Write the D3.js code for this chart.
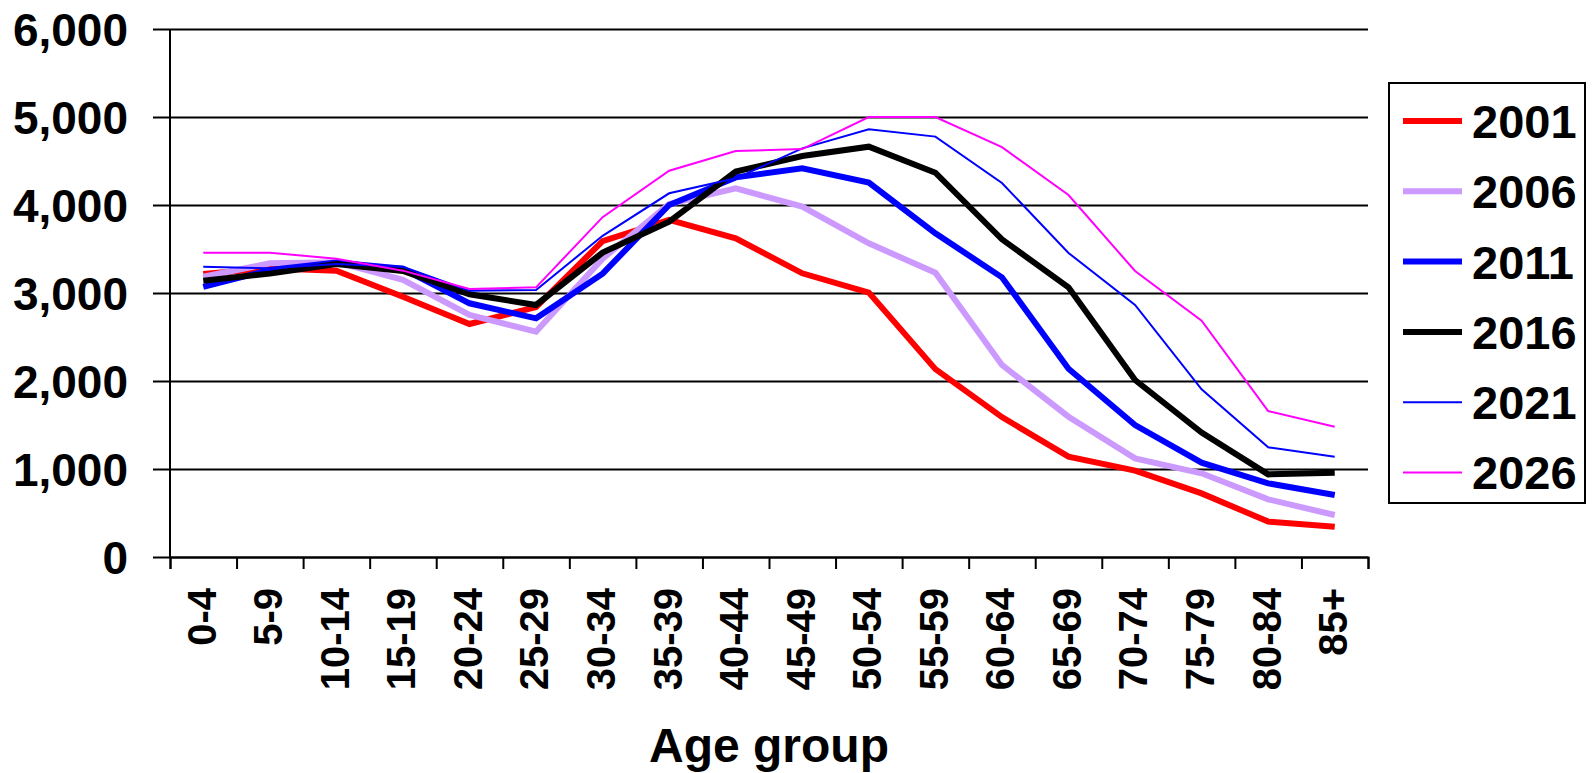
<!DOCTYPE html>
<html>
<head>
<meta charset="utf-8">
<script src="https://cdn.jsdelivr.net/npm/d3@7"></script>
<style>
  body { margin: 0; background: #fff; }
  svg { display: block; font-family: "Liberation Sans", Arial, sans-serif; font-weight: bold; }
  .grid line { stroke: #000; stroke-width: 2; }
  .grid .domain { display: none; }
  .axis-y-line { stroke: #000; stroke-width: 2; }
  .ticks-x line, .ticks-x .domain { stroke: #000; stroke-width: 2; }
  .series { fill: none; stroke-linejoin: miter; }
</style>
</head>
<body>
<svg width="1592" height="773"></svg>
<script>
const ageGroups = ['0-4', '5-9', '10-14', '15-19', '20-24', '25-29', '30-34', '35-39', '40-44',
  '45-49', '50-54', '55-59', '60-64', '65-69', '70-74', '75-79', '80-84', '85+'];
const years = ['2001', '2006', '2011', '2016', '2021', '2026'];
const pop2001 = [3216, 3280, 3254, 2958, 2648, 2840, 3590, 3830, 3621, 3224, 3004, 2135, 1590, 1140, 981, 723, 402, 345];
const pop2006 = [3185, 3337, 3350, 3150, 2750, 2561, 3390, 4010, 4189, 3981, 3564, 3231, 2182, 1594, 1121, 951, 655, 477];
const pop2011 = [3070, 3261, 3345, 3275, 2883, 2712, 3220, 4000, 4314, 4417, 4254, 3678, 3178, 2140, 1500, 1072, 837, 705];
const pop2016 = [3140, 3220, 3330, 3250, 2985, 2864, 3460, 3811, 4379, 4557, 4663, 4367, 3610, 3064, 2011, 1413, 939, 958];
const pop2021 = [3299, 3280, 3330, 3299, 3027, 3034, 3650, 4133, 4303, 4644, 4860, 4777, 4250, 3455, 2864, 1905, 1246, 1140];
const pop2026 = [3458, 3458, 3390, 3254, 3045, 3064, 3862, 4390, 4614, 4636, 5000, 5000, 4658, 4114, 3250, 2686, 1659, 1481];
const yTicks = [0, 1000, 2000, 3000, 4000, 5000, 6000];
const colors = ['#ff0000', '#cc99ff', '#0000ff', '#000000', '#0000ff', '#ff00ff'];
const widths = [6, 6, 6, 6, 2, 2];

const seriesValues = [pop2001, pop2006, pop2011, pop2016, pop2021, pop2026];
const series = years.map((y, i) => ({ year: y, values: seriesValues[i], color: colors[i], width: widths[i] }));

const margin = { top: 29, left: 170 };
const width = 1198;
const height = 528;

const svg = d3.select('svg');
const g = svg.append('g').attr('transform', `translate(${margin.left},${margin.top})`);

const x = d3.scaleBand().domain(ageGroups).range([0, width]);
const y = d3.scaleLinear().domain([0, 6000]).range([height, 0]);
const xEdge = d3.scaleLinear().domain([0, ageGroups.length]).range([0, width]);

// gridlines + y labels
const gridAxis = d3.axisLeft(y)
  .tickValues(yTicks)
  .tickSize(-(width + 17))
  .tickPadding(25)
  .tickFormat(d3.format(','));

g.append('g')
  .attr('class', 'grid')
  .attr('transform', 'translate(-17,0)')
  .call(gridAxis)
  .call(s => s.selectAll('text')
    .attr('fill', '#000')
    .attr('font-size', 46)
    .attr('font-weight', 'bold')
    .attr('dy', '0.36em'));

g.append('line')
  .attr('class', 'axis-y-line')
  .attr('x1', 0).attr('x2', 0)
  .attr('y1', 0).attr('y2', height);

// x ticks at category boundaries
g.append('g')
  .attr('class', 'ticks-x')
  .attr('transform', `translate(0,${height})`)
  .call(d3.axisBottom(xEdge).tickValues(d3.range(ageGroups.length + 1)).tickSize(12).tickFormat(''));

// x labels
const xLabels = g.append('g')
  .attr('transform', `translate(0,${height})`)
  .call(d3.axisBottom(x).tickSize(0).tickPadding(0));
xLabels.select('.domain').remove();
xLabels.selectAll('text')
  .attr('fill', '#000')
  .attr('font-size', 40)
  .attr('font-weight', 'bold')
  .attr('text-anchor', 'end')
  .attr('transform', 'translate(-2,31) rotate(-90)')
  .attr('x', 0)
  .attr('y', 0)
  .attr('dy', '0.36em');

// lines
const line = d3.line()
  .x((d, i) => x(ageGroups[i]) + x.bandwidth() / 2)
  .y(d => y(d));

g.selectAll('.series')
  .data(series)
  .join('path')
  .attr('class', 'series')
  .attr('stroke', d => d.color)
  .attr('stroke-width', d => d.width)
  .attr('d', d => line(d.values));

// axis title
svg.append('text')
  .attr('x', margin.left + width / 2)
  .attr('y', 762)
  .attr('text-anchor', 'middle')
  .attr('font-size', 48)
  .text('Age group');

// legend
const legend = svg.append('g').attr('transform', 'translate(1389,83)');
legend.append('rect')
  .attr('width', 196)
  .attr('height', 420)
  .attr('fill', '#fff')
  .attr('stroke', '#000')
  .attr('stroke-width', 2);

const rows = legend.selectAll('.legend-row')
  .data(series)
  .join('g')
  .attr('class', 'legend-row')
  .attr('transform', (d, i) => `translate(0,${38 + i * 70.3})`);

rows.append('line')
  .attr('x1', 14).attr('x2', 73)
  .attr('stroke', d => d.color)
  .attr('stroke-width', d => d.width);

rows.append('text')
  .attr('x', 83)
  .attr('dy', '0.36em')
  .attr('font-size', 47)
  .text(d => d.year);
</script>
</body>
</html>
